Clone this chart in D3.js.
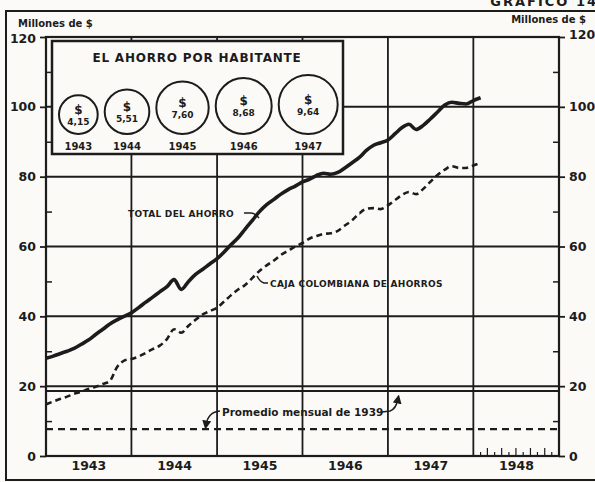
<!DOCTYPE html>
<html>
<head>
<meta charset="utf-8">
<script src="https://cdn.jsdelivr.net/npm/d3@7"></script>
<style>
  body { margin: 0; background: #fbfaf7; }
  svg { display: block; }
  text { font-family: "DejaVu Sans", sans-serif; fill: #1c1c1c; }
</style>
</head>
<body>
<svg id="chart" width="595" height="482"></svg>
<script>
// monthly series, Jan 1943 .. Feb 1948 (millones de $)
const totalAhorro = [28, 28.6, 29.3, 30, 30.8, 32, 33.2, 34.8, 36.3, 37.8, 39, 40,
    41, 42.5, 44, 45.5, 47, 48.5, 50.5, 47.7, 50, 52, 53.5, 55,
    56.5, 58.5, 60.5, 62.5, 65, 67.5, 70, 72, 73.5, 75, 76.3, 77.3,
    78.5, 79.3, 80.3, 81, 80.7, 81.2, 82.5, 84, 85.5, 87.5, 89, 89.7,
    90.5, 92.3, 94, 95, 93.5, 94.7, 96.5, 98.5, 100.5, 101.3, 101, 100.8,
    101.8, 102.6];
const cajaColombiana = [14.8, 15.6, 16.3, 17, 17.8, 18.4, 19.2, 19.8, 20.6, 21.5, 25.5, 27.3,
    27.8, 28.5, 29.5, 30.6, 31.6, 33.5, 36.3, 35.3, 37.3, 39, 40.6, 41.5,
    42.5, 44.3, 46, 47.7, 49, 51, 53, 54.6, 56, 57.6, 58.8, 60,
    61, 62.3, 63, 63.6, 63.8, 64.5, 66, 67.5, 69.5, 70.8, 71, 70.7,
    71.8, 73.3, 74.7, 75.6, 75, 76.5, 78.5, 80.5, 82, 83, 82.5, 82.5,
    83.2, 84];
const promedio1939 = 7.7;
const doubleRule = [20, 18.6];

const years = [1943, 1944, 1945, 1946, 1947, 1948];
const yTicks = [0, 20, 40, 60, 80, 100, 120];
const yMinor = [10, 30, 50, 70, 90, 110];

// ahorro por habitante
const habYears = ['1943', '1944', '1945', '1946', '1947'];
const habValues = [4.15, 5.51, 7.60, 8.68, 9.64];
const habLabels = ['4,15', '5,51', '7,60', '8,68', '9,64'];

const ink = '#1c1c1c';
const svg = d3.select('#chart');

const x = d3.scaleTime()
    .domain([new Date(1943, 0, 1), new Date(1949, 0, 1)])
    .range([46, 559]);
const y = d3.scaleLinear().domain([0, 120]).range([456, 37]);
const months = totalAhorro.map((d, i) => new Date(1943, i, 1));

// outer frame
svg.append('rect').attr('x', 6).attr('y', 11).attr('width', 600).attr('height', 469)
    .attr('fill', 'none').attr('stroke', ink).attr('stroke-width', 2);
svg.append('text').attr('x', 598).attr('y', 6).attr('text-anchor', 'end')
    .style('font-size', '13px').style('font-weight', 'bold').style('letter-spacing', '2px')
    .text('GRAFICO  14');

const g = svg.append('g');

// grid
g.selectAll('.hgrid').data(yTicks.filter(v => v > 0 && v < 120).concat(doubleRule.slice(1)))
    .enter().append('line')
    .attr('x1', x.range()[0]).attr('x2', x.range()[1])
    .attr('y1', d => y(d)).attr('y2', d => y(d))
    .attr('stroke', ink).attr('stroke-width', 2);
g.selectAll('.vgrid').data(years.slice(1))
    .enter().append('line')
    .attr('x1', d => x(new Date(d, 0, 1))).attr('x2', d => x(new Date(d, 0, 1)))
    .attr('y1', y(0)).attr('y2', y(120))
    .attr('stroke', ink).attr('stroke-width', 1.8);

// plot border
g.append('rect').attr('x', x.range()[0]).attr('y', y(120))
    .attr('width', x.range()[1] - x.range()[0]).attr('height', y(0) - y(120))
    .attr('fill', 'none').attr('stroke', ink).attr('stroke-width', 2.2);

// axes
const axL = g.append('g').attr('transform', `translate(${x.range()[0]},0)`)
    .call(d3.axisLeft(y).tickValues(yTicks).tickSize(6).tickPadding(4));
const axR = g.append('g').attr('transform', `translate(${x.range()[1]},0)`)
    .call(d3.axisRight(y).tickValues(yTicks).tickSize(6).tickPadding(4));
[axL, axR].forEach(a => {
    a.select('.domain').remove();
    a.selectAll('line').attr('stroke', ink).attr('stroke-width', 1.8);
    a.selectAll('text').style('font-size', '12.5px').style('font-weight', 'bold')
        .style('font-family', '"DejaVu Sans", sans-serif').attr('fill', ink);
});
axL.selectAll('.tick').filter(d => d === 120).select('text').attr('dy', '0.45em');
axR.selectAll('.tick').filter(d => d === 120).select('text').attr('dy', '0.15em');
g.append('g').attr('transform', `translate(${x.range()[0]},0)`)
    .call(d3.axisRight(y).tickValues(yMinor).tickSize(6).tickFormat(''))
    .call(a => a.select('.domain').remove())
    .selectAll('line').attr('stroke', ink).attr('stroke-width', 1.5);
g.append('g').attr('transform', `translate(${x.range()[1]},0)`)
    .call(d3.axisLeft(y).tickValues(yMinor).tickSize(6).tickFormat(''))
    .call(a => a.select('.domain').remove())
    .selectAll('line').attr('stroke', ink).attr('stroke-width', 1.5);

const axB = g.append('g').attr('transform', `translate(0,${y(0)})`)
    .call(d3.axisBottom(x).tickValues(years.map(v => new Date(v, 6, 1)))
        .tickSize(0).tickPadding(5).tickFormat(d3.timeFormat('%Y')));
axB.select('.domain').remove();
axB.selectAll('text').style('font-size', '12.5px').style('font-weight', 'bold')
    .style('font-family', '"DejaVu Sans", sans-serif').attr('fill', ink);

// month ticks in 1948
const m48 = d3.range(1, 12).map(m => new Date(1948, m, 1));
g.selectAll('.mtick').data(m48).enter().append('line')
    .attr('x1', d => x(d)).attr('x2', d => x(d))
    .attr('y1', y(0)).attr('y2', (d, i) => y(0) - (i % 2 ? 8 : 4))
    .attr('stroke', ink).attr('stroke-width', 1.2);

// axis titles
svg.append('text').attr('x', 18).attr('y', 27)
    .style('font-size', '10px').style('font-weight', 'bold').text('Millones de $');
svg.append('text').attr('x', 586).attr('y', 23).attr('text-anchor', 'end')
    .style('font-size', '10px').style('font-weight', 'bold').text('Millones de $');

// promedio 1939
g.append('line')
    .attr('x1', x.range()[0]).attr('x2', x.range()[1])
    .attr('y1', y(promedio1939)).attr('y2', y(promedio1939))
    .attr('stroke', ink).attr('stroke-width', 2.4).attr('stroke-dasharray', '7,5');

// series
const line = d3.line().x((d, i) => x(months[i])).y(d => y(d)).curve(d3.curveMonotoneX);
g.append('path').datum(cajaColombiana).attr('d', line)
    .attr('fill', 'none').attr('stroke', ink).attr('stroke-width', 2.6)
    .attr('stroke-dasharray', '6,4');
g.append('path').datum(totalAhorro).attr('d', line)
    .attr('fill', 'none').attr('stroke', ink).attr('stroke-width', 3.6)
    .attr('stroke-linejoin', 'round');

// labels with leaders
svg.append('defs').append('marker').attr('id', 'arr')
    .attr('viewBox', '0 0 10 10').attr('refX', 5).attr('refY', 5)
    .attr('markerWidth', 6).attr('markerHeight', 6).attr('orient', 'auto')
    .append('path').attr('d', 'M0,0L10,5L0,10z').attr('fill', ink);

const labelStyle = t => t.style('font-size', '9px').style('font-weight', 'bold')
    .style('letter-spacing', '0.3px');
svg.append('text').attr('x', 128).attr('y', 217).call(labelStyle).text('TOTAL DEL AHORRO');
svg.append('path').attr('d', 'M244,213 L251,213 Q255,213 259,218')
    .attr('fill', 'none').attr('stroke', ink).attr('stroke-width', 1.5);
svg.append('text').attr('x', 270).attr('y', 287).call(labelStyle).text('CAJA COLOMBIANA DE AHORROS');
svg.append('path').attr('d', 'M268,283 L264,283 Q260,282 257,276')
    .attr('fill', 'none').attr('stroke', ink).attr('stroke-width', 1.5);

svg.append('text').attr('x', 222).attr('y', 416)
    .style('font-size', '10.5px').style('font-weight', 'bold').text('Promedio mensual de 1939');
svg.append('path').attr('d', 'M220,411 Q208,412 206,425')
    .attr('fill', 'none').attr('stroke', ink).attr('stroke-width', 1.5)
    .attr('marker-end', 'url(#arr)');
svg.append('path').attr('d', 'M382,412 L390,411 Q396,409 398,399')
    .attr('fill', 'none').attr('stroke', ink).attr('stroke-width', 1.5)
    .attr('marker-end', 'url(#arr)');

// inset: ahorro por habitante
const inset = svg.append('g');
inset.append('rect').attr('x', 52).attr('y', 41).attr('width', 291).attr('height', 113)
    .attr('fill', '#fbfaf7').attr('stroke', ink).attr('stroke-width', 2.5);
inset.append('text').attr('x', 197).attr('y', 62).attr('text-anchor', 'middle')
    .style('font-size', '12px').style('font-weight', '600').style('letter-spacing', '0.8px')
    .text('EL AHORRO POR HABITANTE');

const r = d3.scaleSqrt().domain([0, d3.max(habValues)]).range([0, 29.5]);
let cx = 59;
const circ = habValues.map((v, i) => {
    const rad = r(v);
    const c = { x: cx + rad, r: rad, v: v, i: i };
    cx += 2 * rad + 7;
    return c;
});
const bottom = 134;
const cg = inset.selectAll('.hab').data(circ).enter().append('g');
cg.append('circle').attr('cx', d => d.x).attr('cy', d => bottom - d.r).attr('r', d => d.r)
    .attr('fill', 'none').attr('stroke', ink).attr('stroke-width', 2);
cg.append('text').attr('x', d => d.x).attr('y', d => bottom - d.r - 1)
    .attr('text-anchor', 'middle').style('font-size', '12px').style('font-weight', 'bold')
    .text('$');
cg.append('text').attr('x', d => d.x).attr('y', d => bottom - d.r + 10)
    .attr('text-anchor', 'middle').style('font-size', '9px').style('font-weight', 'bold')
    .text(d => habLabels[d.i]);
cg.append('text').attr('x', d => d.x).attr('y', 150)
    .attr('text-anchor', 'middle').style('font-size', '10px').style('font-weight', 'bold')
    .text(d => habYears[d.i]);
</script>
</body>
</html>
